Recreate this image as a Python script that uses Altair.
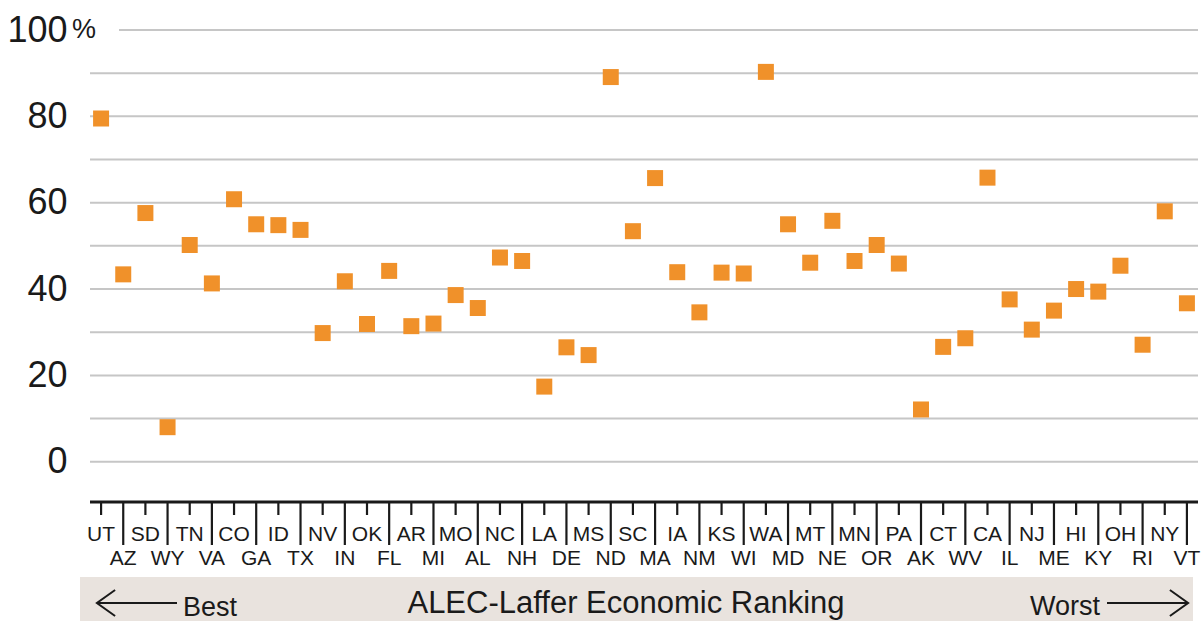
import altair as alt
import pandas as pd

# ---- data ----
states = ["UT", "AZ", "SD", "WY", "TN", "VA", "CO", "GA", "ID", "TX",
          "NV", "IN", "OK", "FL", "AR", "MI", "MO", "AL", "NC", "NH",
          "LA", "DE", "MS", "ND", "SC", "MA", "IA", "NM", "KS", "WI",
          "WA", "MD", "MT", "NE", "MN", "OR", "PA", "AK", "CT", "WV",
          "CA", "IL", "NJ", "ME", "HI", "KY", "OH", "RI", "NY", "VT"]
values = [79.5, 43.4, 57.6, 8.0, 50.2, 41.3, 60.8, 55.0, 54.8, 53.7,
          29.8, 41.8, 31.9, 44.2, 31.4, 32.0, 38.6, 35.6, 47.3, 46.5,
          17.4, 26.5, 24.7, 89.1, 53.4, 65.7, 43.9, 34.6, 43.8, 43.6,
          90.3, 55.0, 46.1, 55.8, 46.5, 50.2, 45.9, 12.1, 26.6, 28.6,
          65.8, 37.6, 30.6, 35.0, 40.0, 39.4, 45.4, 27.1, 58.0, 36.7]
y_labels = [0, 20, 40, 60, 80, 100]
grid_lower = [0, 10, 20, 30, 40, 50, 60, 70, 80, 90]
grid_top = [100]
title_text = "ALEC-Laffer Economic Ranking"
best_text = "Best"
worst_text = "Worst"

# ---- style ----
W, H = 1108, 472
FONT = "'Liberation Sans', Arial, Helvetica, sans-serif"
INK = "#1a1a1a"
ORANGE = "#F0912A"
GRID = "#c6c6c6"
BAND = "#e9e3de"

df = pd.DataFrame({"state": states, "pct": values})
top_row = pd.DataFrame({"state": states[0::2]})
bottom_row = pd.DataFrame({"state": states[1::2]})
grid_df = pd.DataFrame({"v": grid_lower})
grid_top_df = pd.DataFrame({"v": grid_top})
one = pd.DataFrame({"k": [0]})

xscale = alt.Scale(domain=states, paddingInner=0, paddingOuter=0)
yscale = alt.Scale(domain=[-9.33, 100], nice=False, zero=False)
yaxis = alt.Axis(values=y_labels, grid=False, ticks=False, tickSize=0, domain=False,
                 labelFont=FONT, labelFontSize=36, labelColor=INK,
                 labelPadding=23, title=None)


def X():
    return alt.X("state:N", scale=xscale, axis=None)


band = alt.Chart(one).mark_rect(color=BAND).encode(
    x=alt.value(-10), x2=alt.value(1103), y=alt.value(547), y2=alt.value(591))

grid = alt.Chart(grid_df).mark_rule(color=GRID, strokeWidth=2).encode(
    y=alt.Y("v:Q", scale=yscale, axis=yaxis), x=alt.value(0), x2=alt.value(W))
grid100 = alt.Chart(grid_top_df).mark_rule(color=GRID, strokeWidth=2).encode(
    y=alt.Y("v:Q", scale=yscale, axis=yaxis), x=alt.value(29), x2=alt.value(W))
pct_sign = alt.Chart(grid_top_df).mark_text(
    text="%", font=FONT, fontSize=27, color=INK, align="left", baseline="middle").encode(
    y=alt.Y("v:Q", scale=yscale, axis=yaxis), x=alt.value(-18))

domain = alt.Chart(one).mark_rule(color=INK, strokeWidth=3).encode(
    x=alt.value(0), x2=alt.value(W), y=alt.value(H))

short_ticks = alt.Chart(top_row).mark_rule(color=INK, strokeWidth=2.2).encode(
    x=X(), y=alt.value(H), y2=alt.value(H + 13))
long_ticks = alt.Chart(bottom_row).mark_rule(color=INK, strokeWidth=2.2).encode(
    x=X(), y=alt.value(H), y2=alt.value(H + 43))

lab_top = alt.Chart(top_row).mark_text(
    font=FONT, fontSize=21, color=INK, baseline="alphabetic", align="center").encode(
    x=X(), y=alt.value(511), text="state:N")
lab_bottom = alt.Chart(bottom_row).mark_text(
    font=FONT, fontSize=21, color=INK, baseline="alphabetic", align="center").encode(
    x=X(), y=alt.value(535), text="state:N")

squares = alt.Chart(df).mark_square(size=256, color=ORANGE, opacity=1).encode(
    x=X(), y=alt.Y("pct:Q", scale=yscale, axis=yaxis))

title = alt.Chart(one).mark_text(
    text=title_text, font=FONT, fontSize=31, color=INK, align="center",
    baseline="alphabetic").encode(x=alt.value(536), y=alt.value(583))
best = alt.Chart(one).mark_text(
    text=best_text, font=FONT, fontSize=27, color=INK, align="left",
    baseline="alphabetic").encode(x=alt.value(93), y=alt.value(586))
worst = alt.Chart(one).mark_text(
    text=worst_text, font=FONT, fontSize=27, color=INK, align="right",
    baseline="alphabetic").encode(x=alt.value(1010), y=alt.value(585))

left_shaft = alt.Chart(one).mark_rule(color=INK, strokeWidth=2).encode(
    x=alt.value(8), x2=alt.value(87), y=alt.value(573))
left_head = alt.Chart(one).mark_point(
    shape="M 0.7 -1 L -0.7 0 L 0.7 1", size=676, filled=False,
    strokeWidth=2, color=INK, opacity=1).encode(x=alt.value(16), y=alt.value(573))
right_shaft = alt.Chart(one).mark_rule(color=INK, strokeWidth=2).encode(
    x=alt.value(1017), x2=alt.value(1097), y=alt.value(573))
right_head = alt.Chart(one).mark_point(
    shape="M -0.7 -1 L 0.7 0 L -0.7 1", size=676, filled=False,
    strokeWidth=2, color=INK, opacity=1).encode(x=alt.value(1089), y=alt.value(573))

chart = alt.layer(
    band, grid, grid100, pct_sign, domain, short_ticks, long_ticks,
    lab_top, lab_bottom, squares, title, best, worst,
    left_shaft, left_head, right_shaft, right_head,
).properties(
    width=W, height=H,
    autosize=alt.AutoSizeParams(type="none"),
    padding={"left": 90, "top": 30, "right": 4, "bottom": 119},
    background="white",
).configure_view(stroke=None)

chart.save("out.html", embed_options={"renderer": "svg", "actions": False})
